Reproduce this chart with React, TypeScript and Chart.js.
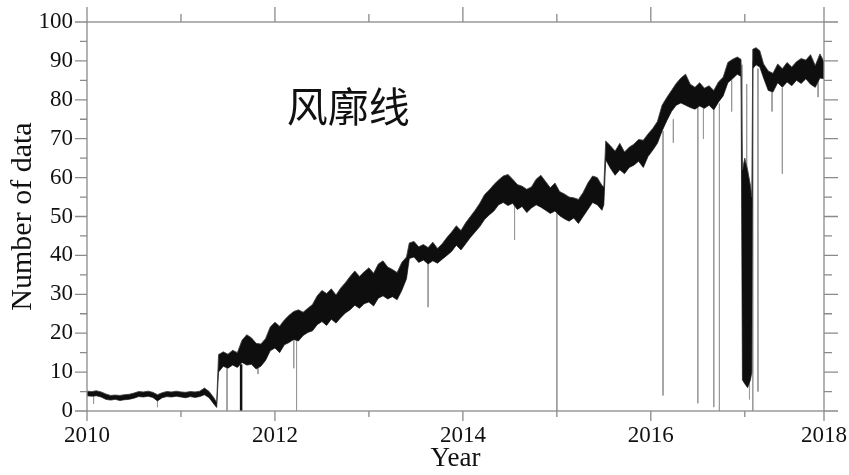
import { useEffect, useRef } from 'react';
import { Chart, registerables } from 'chart.js';

Chart.register(...registerables);

// Sample dates (decimal years) of the daily-count envelope
const sampleYears = [
  2010.00, 2010.05, 2010.10, 2010.15, 2010.20, 2010.25, 2010.30, 2010.35, 2010.40, 2010.45,
  2010.50, 2010.55, 2010.60, 2010.65, 2010.70, 2010.75, 2010.80, 2010.85, 2010.90, 2010.95,
  2011.00, 2011.05, 2011.10, 2011.15, 2011.20, 2011.25, 2011.30, 2011.35, 2011.38, 2011.40,
  2011.45, 2011.50, 2011.55, 2011.60, 2011.65, 2011.70, 2011.75, 2011.80, 2011.85, 2011.90,
  2011.95, 2012.00, 2012.05, 2012.10, 2012.15, 2012.20, 2012.25, 2012.30, 2012.35, 2012.40,
  2012.45, 2012.50, 2012.55, 2012.60, 2012.65, 2012.70, 2012.75, 2012.80, 2012.85, 2012.90,
  2012.95, 2013.00, 2013.05, 2013.10, 2013.15, 2013.20, 2013.25, 2013.30, 2013.35, 2013.40,
  2013.43, 2013.48, 2013.53, 2013.58, 2013.63, 2013.68, 2013.73, 2013.78, 2013.83, 2013.88,
  2013.93, 2013.98, 2014.03, 2014.08, 2014.13, 2014.18, 2014.23, 2014.28, 2014.33, 2014.38,
  2014.43, 2014.48, 2014.53, 2014.58, 2014.63, 2014.68, 2014.73, 2014.78, 2014.83, 2014.88,
  2014.93, 2014.98, 2015.03, 2015.08, 2015.13, 2015.18, 2015.23, 2015.28, 2015.33, 2015.38,
  2015.43, 2015.48, 2015.50, 2015.52, 2015.57, 2015.62, 2015.67, 2015.72, 2015.77, 2015.82,
  2015.87, 2015.92, 2015.97, 2016.02, 2016.07, 2016.12, 2016.17, 2016.22, 2016.27, 2016.32,
  2016.37, 2016.42, 2016.47, 2016.52, 2016.57, 2016.62, 2016.67, 2016.72, 2016.77, 2016.82,
  2016.87, 2016.92, 2016.96, 2016.975, 2017.00, 2017.03, 2017.06, 2017.075, 2017.085, 2017.12,
  2017.16, 2017.20, 2017.25, 2017.30, 2017.35, 2017.40, 2017.45, 2017.50, 2017.55, 2017.60,
  2017.65, 2017.70, 2017.75, 2017.80, 2017.843,
];

// Daily maximum of the number of data around each sample date
const upperCounts = [
  5.1, 5.0, 5.2, 4.9, 4.4, 4.0, 4.1, 4.0, 4.2, 4.3,
  4.6, 5.0, 4.9, 5.1, 4.8, 4.2, 4.7, 5.0, 4.9, 5.1,
  4.9, 4.8, 5.0, 4.9, 5.1, 5.9, 5.0, 3.4, 2.2, 14.5,
  15.2, 14.6, 15.6, 15.0, 18.2, 19.6, 18.8, 17.4, 17.2, 18.6,
  21.6, 22.8, 21.8, 23.4, 24.6, 25.6, 26.0, 25.4, 26.4, 27.4,
  29.6, 31.0, 30.2, 31.4, 29.8, 31.6, 33.0, 34.6, 36.0, 34.6,
  35.8, 36.8, 35.4, 37.8, 38.6, 37.0, 36.4, 35.6, 38.2, 39.6,
  43.2, 43.6, 42.2, 42.8, 42.0, 43.4, 41.8, 43.0, 44.6, 46.0,
  47.6, 46.4, 48.4, 50.0, 51.6, 53.4, 55.6, 56.8, 58.2, 59.4,
  60.4, 60.8, 59.6, 58.2, 57.8, 57.0, 57.6, 59.6, 60.6, 59.0,
  57.4, 58.6, 56.4, 55.8, 55.0, 54.8, 54.4, 56.2, 58.6, 60.4,
  60.0, 58.0, 57.6, 69.4, 68.2, 66.8, 68.8, 66.6, 67.8, 68.6,
  69.8, 69.6, 71.2, 72.6, 74.4, 78.6, 80.6, 82.4, 84.2, 85.6,
  86.6, 84.0, 83.2, 84.4, 83.0, 83.6, 82.4, 84.6, 85.8, 89.6,
  90.4, 91.0, 90.4, 62.0, 65.0, 62.0, 58.0, 55.0, 93.0, 93.4,
  92.6, 89.2, 87.4, 86.8, 89.2, 88.0, 89.6, 88.4, 89.8, 90.6,
  90.2, 91.6, 88.8, 91.8, 89.8,
];

// Daily minimum of the number of data around each sample date
const lowerCounts = [
  3.9, 3.8, 3.9, 3.6, 3.0, 2.8, 3.0, 2.7, 2.9, 3.0,
  3.3, 3.7, 3.6, 3.8, 3.5, 2.6, 3.4, 3.7, 3.6, 3.8,
  3.6, 3.4, 3.7, 3.5, 3.7, 4.2, 3.4, 1.8, 0.9, 10.0,
  11.5, 11.0, 11.8, 11.2, 12.5, 11.8, 12.0, 10.8, 11.5, 13.0,
  15.5, 16.2, 15.0, 17.0, 17.6, 18.4, 18.0, 19.4, 20.2, 20.6,
  22.2, 23.0, 22.0, 23.6, 22.6, 24.0, 25.2, 26.0, 27.2, 26.4,
  27.6, 28.0, 27.0, 29.0, 29.6, 28.8, 29.4, 28.6, 31.0, 34.0,
  39.2, 39.6, 38.2, 38.8, 37.8, 38.6, 38.0, 39.0, 40.0, 41.0,
  42.6, 41.4, 43.0, 44.6, 46.0, 47.4, 49.2, 50.4, 51.4, 53.0,
  53.6, 52.8, 53.4, 51.8, 52.6, 51.0, 52.2, 53.0, 52.4, 51.6,
  50.8, 51.4, 50.2, 49.4, 48.8, 49.6, 48.2, 50.0, 51.8, 53.6,
  53.0, 51.6, 53.0, 64.6, 62.4, 60.6, 62.0, 61.0, 62.6, 63.2,
  64.2, 62.6, 65.4, 67.0, 68.8, 72.0, 74.6, 77.0, 78.6, 79.2,
  78.6, 78.0, 77.6, 78.4, 77.8, 78.6, 77.4, 79.4, 81.0, 84.4,
  85.4, 86.6, 86.0, 8.0, 7.0, 6.0, 8.0, 10.0, 88.0, 89.0,
  88.4, 85.6, 82.4, 82.0, 84.4, 83.2, 84.6, 83.6, 85.0, 84.2,
  85.4, 84.0, 83.2, 85.6, 85.4,
];

// Isolated drop-outs: date, count before the drop, lowest count
const dipYears = [
  2010.07, 2010.75, 2011.49, 2011.82, 2012.20, 2012.23, 2013.63, 2014.55, 2015.00, 2016.13,
  2016.24, 2016.50, 2016.56, 2016.67, 2016.73, 2016.86, 2016.97, 2017.02, 2017.05, 2017.085,
  2017.14, 2017.29, 2017.40, 2017.78,
];
const dipTops = [
  4.0, 3.0, 11.5, 11.0, 18.5, 18.2, 38.0, 53.0, 51.4, 72.0,
  75.0, 78.0, 78.0, 77.4, 79.0, 85.0, 89.0, 84.0, 10.0, 90.0,
  88.0, 82.0, 83.0, 85.0,
];
const dipBottoms = [
  1.8, 1.0, 0, 9.5, 11.0, 0, 26.7, 44.0, 0, 4.0,
  69.0, 2.0, 70.0, 1.0, 0, 77.0, 60.0, 62.0, 3.0, 0,
  5.0, 77.0, 61.0, 80.7,
];

// Longer outage in mid-2011
const outageYears = [2011.64];
const outageTops = [12.0];
const outageBottoms = [0];

const X_MIN = 2010;
const X_MAX = 2017.843;
const xTickValues = [2010, 2012, 2014, 2016, 2017.843];
const xTickLabels = ['2010', '2012', '2014', '2016', '2018'];
const xMinorTickValues = [2011, 2013, 2015, 2017];
const yTickValues = [0, 10, 20, 30, 40, 50, 60, 70, 80, 90, 100];
const yMinorTickValues = [5, 15, 25, 35, 45, 55, 65, 75, 85, 95];
const annotationText = '风廓线';

const SERIF = '"Liberation Serif", "Times New Roman", serif';

function segmentPoints(xs: number[], tops: number[], bottoms: number[]) {
  const pts: { x: number; y: number | null }[] = [];
  xs.forEach((x, i) => {
    pts.push({ x, y: tops[i] });
    pts.push({ x, y: bottoms[i] });
    pts.push({ x, y: null });
  });
  return pts;
}

// Fixed box sizes, with no extra room reserved for overhanging labels
function fixBox(size: { width?: number; height?: number }) {
  return (s: any) => {
    if (size.width !== undefined) s.width = size.width;
    if (size.height !== undefined) s.height = size.height;
    s.paddingLeft = 0;
    s.paddingRight = 0;
    s.paddingTop = 0;
    s.paddingBottom = 0;
  };
}

const framePlugin = {
  id: 'frameTicks',
  afterDatasetsDraw(chart: any) {
    const { ctx, chartArea: a, scales } = chart;
    const xs = scales.x;
    const ys = scales.y;
    ctx.save();
    ctx.strokeStyle = '#8a8a8a';
    ctx.lineWidth = 1.3;
    ctx.strokeRect(a.left, a.top, a.right - a.left, a.bottom - a.top);
    ctx.beginPath();
    xTickValues.forEach((v) => {
      const px = xs.getPixelForValue(v);
      ctx.moveTo(px, a.bottom);
      ctx.lineTo(px, a.bottom + 10);
      ctx.moveTo(px, a.top);
      ctx.lineTo(px, a.top - 15);
    });
    xMinorTickValues.forEach((v) => {
      const px = xs.getPixelForValue(v);
      ctx.moveTo(px, a.bottom);
      ctx.lineTo(px, a.bottom + 6);
      ctx.moveTo(px, a.top);
      ctx.lineTo(px, a.top - 8);
    });
    yTickValues.forEach((v) => {
      const py = ys.getPixelForValue(v);
      ctx.moveTo(a.left - 12, py);
      ctx.lineTo(a.left, py);
      ctx.moveTo(a.right, py);
      ctx.lineTo(a.right + 14, py);
    });
    yMinorTickValues.forEach((v) => {
      const py = ys.getPixelForValue(v);
      ctx.moveTo(a.left - 7, py);
      ctx.lineTo(a.left, py);
      ctx.moveTo(a.right, py);
      ctx.lineTo(a.right + 8, py);
    });
    ctx.stroke();

    ctx.fillStyle = '#111';
    ctx.font = '41px "Noto Sans CJK SC", sans-serif';
    ctx.textAlign = 'center';
    ctx.textBaseline = 'middle';
    ctx.fillText(annotationText, xs.getPixelForValue(2012.78), ys.getPixelForValue(78.2));
    ctx.restore();
  },
};

export default function App() {
  const canvasRef = useRef<HTMLCanvasElement | null>(null);

  useEffect(() => {
    const canvas = canvasRef.current;
    if (!canvas) return;

    const upper = sampleYears.map((x, i) => ({ x, y: upperCounts[i] }));
    const lower = sampleYears.map((x, i) => ({ x, y: lowerCounts[i] }));

    const chart = new Chart(canvas, {
      type: 'line',
      data: {
        datasets: [
          {
            label: 'max',
            data: upper,
            borderColor: 'rgba(60,60,60,0.85)',
            borderWidth: 1,
            backgroundColor: '#0e0e0e',
            fill: '+1',
            pointRadius: 0,
            tension: 0,
            order: 1,
          },
          {
            label: 'min',
            data: lower,
            borderColor: 'rgba(60,60,60,0.85)',
            borderWidth: 1,
            fill: false,
            pointRadius: 0,
            tension: 0,
            order: 2,
          },
          {
            label: 'drop-outs',
            data: segmentPoints(dipYears, dipTops, dipBottoms),
            borderColor: '#9a9a9a',
            borderWidth: 1,
            fill: false,
            pointRadius: 0,
            spanGaps: false,
            order: 3,
          },
          {
            label: 'outage',
            data: segmentPoints(outageYears, outageTops, outageBottoms),
            borderColor: '#111',
            borderWidth: 2.5,
            fill: false,
            pointRadius: 0,
            spanGaps: false,
            order: 3,
          },
        ],
      },
      options: {
        animation: false,
        responsive: false,
        maintainAspectRatio: false,
        layout: { padding: 0 },
        plugins: {
          legend: { display: false },
          tooltip: { enabled: false },
        },
        scales: {
          x: {
            type: 'linear',
            position: 'bottom',
            min: X_MIN,
            max: X_MAX,
            grid: { display: false, drawTicks: false },
            border: { display: false },
            afterBuildTicks: (s: any) => {
              s.ticks = xTickValues.map((value) => ({ value }));
            },
            afterFit: fixBox({ height: 64 }),
            ticks: {
              autoSkip: false,
              maxRotation: 0,
              padding: 11,
              color: '#111',
              font: { family: SERIF, size: 23 },
              callback: (v: any) => {
                const i = xTickValues.indexOf(Number(v));
                return i >= 0 ? xTickLabels[i] : '';
              },
            },
            title: {
              display: true,
              text: 'Year',
              color: '#111',
              font: { family: SERIF, size: 27 },
              padding: { top: 0, bottom: 0 },
            },
          },
          xTop: {
            type: 'linear',
            position: 'top',
            min: X_MIN,
            max: X_MAX,
            grid: { display: false, drawTicks: false },
            border: { display: false },
            ticks: { display: false },
            afterFit: fixBox({ height: 22 }),
          },
          y: {
            type: 'linear',
            position: 'left',
            min: 0,
            max: 100,
            grid: { display: false, drawTicks: false },
            border: { display: false },
            afterBuildTicks: (s: any) => {
              s.ticks = yTickValues.map((value) => ({ value }));
            },
            afterFit: fixBox({ width: 87 }),
            ticks: {
              padding: 14,
              color: '#111',
              font: { family: SERIF, size: 23 },
            },
            title: {
              display: true,
              text: 'Number of data',
              color: '#111',
              font: { family: SERIF, size: 30 },
              padding: { top: 5, bottom: 0 },
            },
          },
          yRight: {
            type: 'linear',
            position: 'right',
            min: 0,
            max: 100,
            grid: { display: false, drawTicks: false },
            border: { display: false },
            ticks: { display: false },
            afterFit: fixBox({ width: 25 }),
          },
        },
      },
      plugins: [framePlugin],
    });

    return () => chart.destroy();
  }, []);

  return (
    <canvas
      ref={canvasRef}
      width={849}
      height={475}
      style={{ position: 'absolute', left: 0, top: 0, display: 'block', background: '#fff' }}
    />
  );
}
